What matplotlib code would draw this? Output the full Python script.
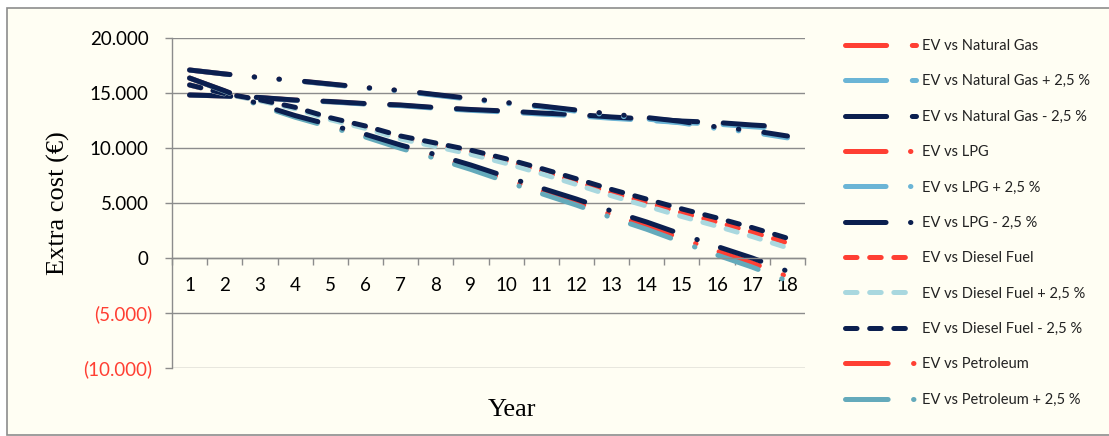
import matplotlib

matplotlib.use("Agg")

import matplotlib.pyplot as plt
from matplotlib.patches import Rectangle
from matplotlib.ticker import FixedLocator, FuncFormatter
from matplotlib.transforms import ScaledTranslation

W, H, DPI = 1109, 436, 100

years = list(range(1, 19))

# extra cost of the EV over each fuel, per year (EUR)
ng = [14820, 14725, 14580, 14345, 14210, 14015, 13880, 13645, 13460, 13315, 13130, 12985, 12760, 12575, 12380, 12245, 12010, 11825]
ng_plus = [14820, 14720, 14570, 14330, 14190, 13990, 13850, 13610, 13420, 13270, 13080, 12930, 12700, 12510, 12310, 12170, 11930, 11740]
ng_minus = [14820, 14730, 14590, 14360, 14230, 14040, 13910, 13680, 13500, 13360, 13180, 13040, 12820, 12640, 12450, 12320, 12090, 11910]

lpg = [17090, 16725, 16400, 16125, 15800, 15475, 15200, 14825, 14460, 14095, 13770, 13395, 13030, 12705, 12340, 11835, 11510, 11005]
lpg_plus = [17090, 16720, 16390, 16110, 15780, 15450, 15170, 14790, 14420, 14050, 13720, 13340, 12970, 12640, 12270, 11760, 11430, 10920]
lpg_minus = [17090, 16730, 16410, 16140, 15820, 15500, 15230, 14860, 14500, 14140, 13820, 13450, 13090, 12770, 12410, 11910, 11590, 11090]

diesel = [15730, 14930, 14340, 13635, 12660, 11890, 10955, 10290, 9615, 8810, 7905, 6940, 5940, 5035, 4115, 3265, 2355, 1365]
diesel_plus = [15730, 14910, 14295, 13570, 12575, 11780, 10820, 10130, 9430, 8600, 7670, 6680, 5655, 4720, 3770, 2890, 1950, 930]
diesel_minus = [15730, 14950, 14380, 13700, 12750, 12000, 11090, 10450, 9800, 9020, 8140, 7200, 6230, 5350, 4460, 3640, 2760, 1800]

petrol = [16360, 15175, 13900, 12875, 12000, 11125, 10120, 9220, 8240, 7160, 6090, 5060, 3940, 2910, 1760, 630, -450, -1680]
petrol_plus = [16360, 15150, 13850, 12800, 11900, 11000, 9970, 9050, 8050, 6950, 5860, 4810, 3670, 2610, 1430, 270, -830, -2080]
petrol_minus = [16360, 15200, 13950, 12950, 12100, 11250, 10270, 9400, 8450, 7400, 6360, 5360, 4270, 3270, 2150, 1050, 0, -1200]

RED = "#FF3F33"
BLUE = "#6BB5D6"
NAVY = "#0B1F4F"
PALE = "#A9D8DF"
TEAL = "#64AABB"
GRID = "#8C8C8C"
IVORY = "#FFFEF3"

# dash patterns in points (not scaled by line width)
LONG_DASH = (0, (29.6, 18.5))
LONG_DASH_DOT_DOT = (0, (29.2, 17.6, 0.3, 17.6, 0.3, 18.2))
LONG_DASH_DOT = (0, (30.7, 18.3, 0.3, 17.6))
DASH = (0, (8.3, 9.1))

series = [
    ("EV vs Natural Gas", ng, RED, LONG_DASH),
    ("EV vs Natural Gas + 2,5 %", ng_plus, BLUE, LONG_DASH),
    ("EV vs Natural Gas - 2,5 %", ng_minus, NAVY, LONG_DASH),
    ("EV vs LPG", lpg, RED, LONG_DASH_DOT_DOT),
    ("EV vs LPG + 2,5 %", lpg_plus, BLUE, LONG_DASH_DOT_DOT),
    ("EV vs LPG - 2,5 %", lpg_minus, NAVY, LONG_DASH_DOT_DOT),
    ("EV vs Diesel Fuel", diesel, RED, DASH),
    ("EV vs Diesel Fuel + 2,5 %", diesel_plus, PALE, DASH),
    ("EV vs Diesel Fuel - 2,5 %", diesel_minus, NAVY, DASH),
    ("EV vs Petroleum", petrol, RED, LONG_DASH_DOT),
    ("EV vs Petroleum + 2,5 %", petrol_plus, TEAL, LONG_DASH_DOT),
    ("EV vs Petroleum - 2,5 %", petrol_minus, NAVY, LONG_DASH_DOT),
]

plt.rcParams["font.family"] = ["Lato", "DejaVu Sans"]
plt.rcParams["lines.scale_dashes"] = False

fig = plt.figure(figsize=(W / DPI, H / DPI), dpi=DPI, facecolor="white")

# chart area frame
frame = Rectangle((7 / W, 1 - 435 / H), 1.2, (435 - 8) / H, transform=fig.transFigure,
                  facecolor=IVORY, edgecolor=GRID, linewidth=1.2, zorder=-10)
fig.add_artist(frame)

ax = fig.add_axes([172 / W, 1 - 368 / H, (805 - 172) / W, (368 - 38) / H])
ax.set_facecolor("none")

handles = []
for label, values, color, style in series:
    (line,) = ax.plot(years, values, color=color, linewidth=3.6, linestyle=style,
                      dash_capstyle="round", solid_capstyle="round", label=label)
    handles.append(line)

ax.set_xlim(0.5, 18.5)
ax.set_ylim(-10000, 20000)

for side in ("top", "right"):
    ax.spines[side].set_visible(False)
ax.spines["left"].set_color(GRID)
ax.spines["left"].set_linewidth(1.0)
ax.spines["bottom"].set_position(("data", 0))
ax.spines["bottom"].set_color(GRID)
ax.spines["bottom"].set_linewidth(1.0)

ax.yaxis.set_major_locator(FixedLocator(range(-10000, 20001, 5000)))
ax.yaxis.grid(True, color=GRID, linewidth=1.0)
ax.set_axisbelow(True)


def money(v, _pos):
    s = f"{abs(int(v)):,}".replace(",", ".")
    return f"({s})" if v < 0 else s


ax.yaxis.set_major_formatter(FuncFormatter(money))
ax.tick_params(axis="y", direction="out", length=5, width=1.0, color=GRID,
               labelsize=13.5, pad=9)
for lbl in ax.get_yticklabels():
    if lbl.get_text().startswith("("):
        lbl.set_color(RED)
    else:
        lbl.set_transform(lbl.get_transform() + ScaledTranslation(-4 / DPI, 0, fig.dpi_scale_trans))

ax.set_xticks(years)
ax.set_xticks([y + 0.5 for y in range(0, 19)], minor=True)
ax.tick_params(axis="x", which="major", length=0, labelsize=13.5, pad=14)
ax.tick_params(axis="x", which="minor", direction="out", length=5, width=1.0, color=GRID)

fig.text(512 / W, 1 - 410 / H, "Year", family="Liberation Serif", fontsize=19,
         ha="center", va="center")
fig.text(58 / W, 1 - 203 / H, "Extra cost (€)", family="Liberation Serif", fontsize=19,
         rotation=90, ha="center", va="center")

fig.legend(handles[:11], [h.get_label() for h in handles[:11]], loc="upper left",
           bbox_to_anchor=(845 / W, 1 - 39 / H), frameon=False, fontsize=10.5,
           handlelength=4.9, handletextpad=0.4, labelspacing=1.465,
           borderaxespad=0, borderpad=0, labelcolor="#222222")

fig.savefig("out.png", dpi=DPI, facecolor="white")
plt.close(fig)
